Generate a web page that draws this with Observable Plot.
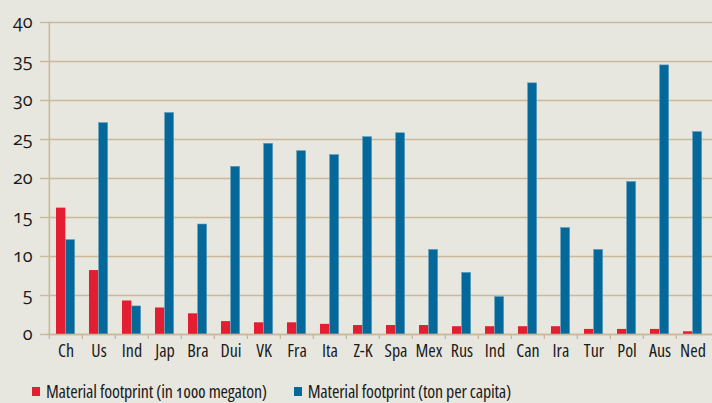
<!DOCTYPE html>
<html><head><meta charset="utf-8">
<script src="https://cdn.jsdelivr.net/npm/d3@7"></script>
<script src="https://cdn.jsdelivr.net/npm/@observablehq/plot@0.6"></script>
<style>
html,body{margin:0;padding:0;background:#e8e7df;}
#wrap{position:relative;width:712px;height:403px;overflow:hidden;background:#e8e7df;font-family:"Open Sans",Lato,sans-serif;font-stretch:75%;color:#1a1a1a;}
#wrap svg{display:block;}
#wrap svg text{font-variant-numeric:oldstyle-nums;font-feature-settings:"onum" 1;}
.legend{position:absolute;top:378px;left:32px;display:flex;align-items:center;font-size:18px;letter-spacing:-0.2px;line-height:26px;white-space:nowrap;font-variant-numeric:oldstyle-nums;font-feature-settings:"onum" 1;}
.legend .sw{display:inline-block;width:8px;height:9px;margin-right:6px;}
.legend .item{display:flex;align-items:center;margin-right:27px;}
</style></head><body><div id="wrap"></div>
<script>
const countries = ["Ch","Us","Ind","Jap","Bra","Dui","VK","Fra","Ita","Z-K","Spa","Mex","Rus","Ind","Can","Ira","Tur","Pol","Aus","Ned"];
const footprintTotal = [16.2, 8.2, 4.3, 3.4, 2.65, 1.65, 1.5, 1.5, 1.3, 1.15, 1.15, 1.15, 1.0, 1.0, 1.0, 1.0, 0.65, 0.65, 0.65, 0.35];
const footprintPerCapita = [12.1, 27.1, 3.6, 28.4, 14.1, 21.5, 24.45, 23.5, 23.0, 25.3, 25.8, 10.85, 7.9, 4.8, 32.2, 13.65, 10.85, 19.55, 34.5, 25.95];
const yTicks = [0, 5, 10, 15, 20, 25, 30, 35, 40];
const seriesNames = ["Material footprint (in 1000 megaton)", "Material footprint (ton per capita)"];
const seriesColors = ["#e31e33", "#04699a"];

const W = 712, H = 372, mL = 46, mR = 0, mT = 22, mB = 38;
const idx = d3.range(countries.length);
const bw = (W - mL - mR) / countries.length;
const pxPerUnit = (H - mT - mB) / 40;
const tan = "#c9b99a";
const rows = idx.map(i => ({i, total: footprintTotal[i], perCapita: footprintPerCapita[i]}));

const chart = Plot.plot({
  width: W, height: H,
  marginLeft: mL, marginRight: mR, marginTop: mT, marginBottom: mB,
  style: {background: "transparent", fontFamily: "'Open Sans', Lato, sans-serif", fontSize: "15px", color: "#1a1a1a", fontStretch: "75%"},
  x: {type: "band", domain: idx, padding: 0, axis: null},
  y: {domain: [0, 40], axis: null},
  marks: [
    Plot.gridY(yTicks, {stroke: tan, strokeOpacity: 1, strokeWidth: 1.4}),
    Plot.barY(rows, {x: "i", y: "total", fill: seriesColors[0], insetLeft: bw * 0.21, insetRight: bw * 0.5}),
    Plot.barY(rows, {x: "i", y: "perCapita", fill: seriesColors[1], stroke: "#5d9dbd", strokeWidth: 0.6, insetLeft: bw * 0.5, insetRight: bw * 0.22}),
    Plot.ruleY([0], {stroke: tan, strokeWidth: 1.6}),
    Plot.ruleX([0], {dx: -bw / 2, stroke: tan, strokeWidth: 1.6}),
    Plot.ruleX(idx, {x: d => d, dx: -bw / 2, y1: 0, y2: -5 / pxPerUnit, stroke: tan, strokeWidth: 1.4}),
    Plot.axisY({ticks: yTicks, tickSize: 6, tickPadding: 8, stroke: tan, strokeWidth: 1.4, strokeOpacity: 1, fontSize: 18, label: null}),
    Plot.axisX(idx, {tickSize: 0, tickPadding: 10, tickFormat: i => countries[i], fontSize: 18, label: null})
  ]
});
const wrap = document.getElementById("wrap");
wrap.appendChild(chart);
chart.querySelectorAll("[aria-label='y-axis tick label'] text, g[aria-label='y-axis tick label']").forEach(el => el.style.fontStretch = "100%");
const legend = document.createElement("div");
legend.className = "legend";
seriesNames.forEach((name, k) => {
  const item = document.createElement("div");
  item.className = "item";
  const sw = document.createElement("span");
  sw.className = "sw";
  sw.style.background = seriesColors[k];
  const t = document.createElement("span");
  t.textContent = name;
  item.appendChild(sw); item.appendChild(t);
  legend.appendChild(item);
});
wrap.appendChild(legend);
</script></body></html>
